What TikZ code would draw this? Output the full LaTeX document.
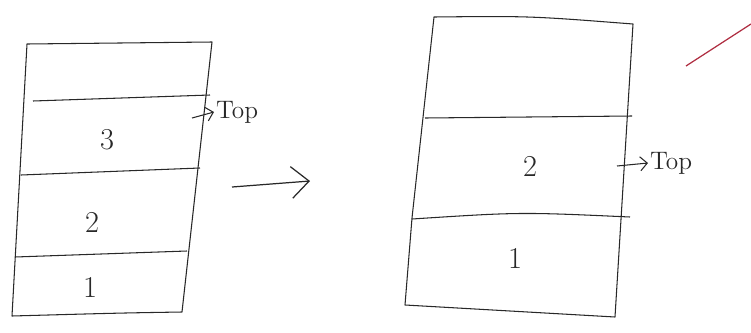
\documentclass[tikz,border=0pt]{standalone}
\usepackage{tikz}
\usepackage{xcolor}
\usetikzlibrary{arrows.meta, positioning, calc}
\definecolor{pencil}{RGB}{40, 40, 40}
\definecolor{redpen}{RGB}{175, 45, 65}
\tikzset{
  % Stack outline and divider lines
  SL/.style={draw=pencil,line width=0.6pt,line join=round},
  % Cell value
  CV/.style={font=\LARGE,text=pencil,inner sep=1pt},
  % Top marker text
  TM/.style={font=\Large,text=pencil,inner sep=1pt},
  % Arrows
  TArr/.style={-{Straight Barb[length=4pt,width=8pt]},line width=0.6pt,color=pencil},
  BArr/.style={-{Straight Barb[length=10pt,width=18pt]},line width=0.7pt,color=pencil},
}
\begin{document}
\begin{tikzpicture}[x=0.02cm,y=-0.02cm]
      \useasboundingbox (0,0) rectangle (751,332);
      % Left stack (before pop)
      \draw[SL] (27,44) -- (212,42) -- (182,312) .. controls (120,313) .. (12,316) -- cycle;
      \draw[SL] (33,101) -- (210,95);
      \draw[SL] (21,175) -- (200,168);
      \draw[SL] (15,257) -- (187,251);
      \node[CV] at (107,140) (lthree) {3};
      \node[CV] at (92,222) (ltwo) {2};
      \node[CV] at (90,287) (lone) {1};
      % Left top marker
      \coordinate (ltail) at (192,118);
      \node[TM,anchor=west] at (214,112) (ltop) {Top};
      \draw[TArr] (ltail) -- (ltop.west);
      % Arrow between stacks
      \coordinate (mstart) at (232,187);
      \coordinate (mend) at (310,181);
      \draw[BArr] (mstart) -- (mend);
      % Right stack (after pop)
      \draw[SL] (434,17) .. controls (530,16) .. (633,24) -- (615,317)
            .. controls (510,310) .. (405,305) -- (412,218) -- cycle;
      \draw[SL] (425,118) -- (632,116);
      \draw[SL] (412,219) .. controls (520,212) .. (630,217);
      \node[CV] at (530,166) (rtwo) {2};
      \node[CV] at (515,258) (rone) {1};
      % Right top marker
      \coordinate (rtail) at (617,166);
      \node[TM,anchor=west] at (648,163) (rtop) {Top};
      \draw[TArr] (rtail) -- (rtop.west);
      % Red stroke at the corner
      \coordinate (rs) at (686,66);
      \coordinate (re) at (751,24);
      \draw[redpen,line width=0.7pt] (rs) -- (re);
    \end{tikzpicture}
\end{document}
